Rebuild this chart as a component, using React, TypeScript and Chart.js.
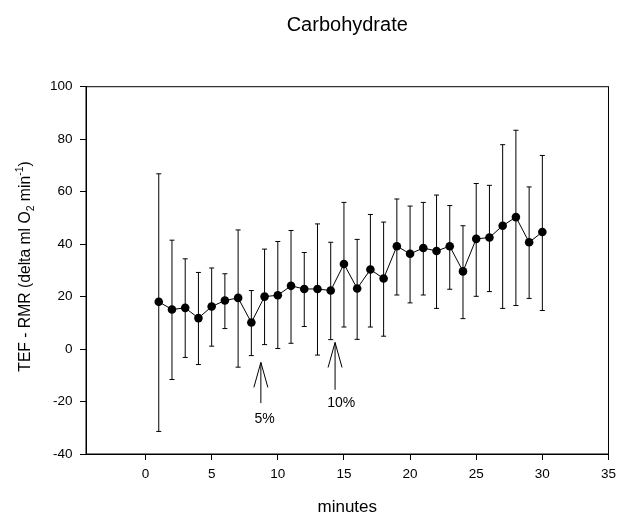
import React, { useEffect, useRef } from "react";
import { Chart, registerables } from "chart.js";

Chart.register(...registerables);

const MINUTES = [1, 2, 3, 4, 5, 6, 7, 8, 9, 10, 11, 12, 13, 14, 15, 16, 17, 18, 19, 20, 21, 22, 23, 24, 25, 26, 27, 28, 29, 30];
const MEAN = [18.0, 15.1, 15.7, 11.8, 16.2, 18.5, 19.5, 10.1, 20.0, 20.5, 24.1, 22.9, 22.9, 22.3, 32.4, 23.1, 30.3, 26.9, 39.2, 36.3, 38.5, 37.4, 39.2, 29.6, 42.0, 42.5, 47.0, 50.3, 40.7, 44.6];
const UPPER = [66.8, 41.5, 34.4, 29.2, 30.9, 28.7, 45.4, 22.3, 38.1, 41.0, 45.2, 36.8, 47.7, 40.7, 55.9, 41.8, 51.3, 48.4, 57.2, 54.5, 55.9, 58.7, 54.7, 47.0, 63.1, 62.4, 77.9, 83.4, 61.8, 73.8];
const LOWER = [-31.4, -11.6, -3.2, -5.9, 1.1, 7.8, -6.9, -2.5, 1.7, 0.2, 2.2, 8.6, -2.3, 3.6, 8.4, 3.7, 8.4, 4.9, 20.6, 17.6, 20.6, 15.5, 22.8, 11.6, 20.1, 21.9, 15.5, 16.6, 19.3, 14.7];

const X_TICKS = [0, 5, 10, 15, 20, 25, 30, 35];
const Y_TICKS = [-40, -20, 0, 20, 40, 60, 80, 100];

const ARROW_X = [8.72, 14.33];
const ARROW_TIP = [-5.1, 2.5];
const ARROW_BASE = [-20.6, -15.5];
const ARROW_LABELS = ["5%", "10%"];
const ARROW_LABEL_X = [9.0, 14.8];
const ARROW_LABEL_Y = [-26.9, -20.6];

const TITLE = "Carbohydrate";
const X_TITLE = "minutes";
const Y_TITLE_PARTS = [
  { text: "TEF - RMR (delta ml O", kind: "n" },
  { text: "2", kind: "sub" },
  { text: " min", kind: "n" },
  { text: "-1", kind: "sup" },
  { text: ")", kind: "n" },
];

const FONT = "'Liberation Sans', Arial, Helvetica, sans-serif";
const W = 622;
const H = 515;

const overlay = {
  id: "overlay",
  beforeDatasetsDraw(chart: any) {
    const { ctx, scales } = chart;
    const x = scales.x;
    const y = scales.y;
    ctx.save();
    ctx.strokeStyle = "#000";
    ctx.lineWidth = 1;
    const cap = 2.5;
    MINUTES.forEach((m, i) => {
      const px = x.getPixelForValue(m);
      const top = y.getPixelForValue(UPPER[i]);
      const bot = y.getPixelForValue(LOWER[i]);
      ctx.beginPath();
      ctx.moveTo(px, top);
      ctx.lineTo(px, bot);
      ctx.moveTo(px - cap, top);
      ctx.lineTo(px + cap, top);
      ctx.moveTo(px - cap, bot);
      ctx.lineTo(px + cap, bot);
      ctx.stroke();
    });
    ctx.restore();
  },
  afterDraw(chart: any) {
    const { ctx, scales, chartArea } = chart;
    const x = scales.x;
    const y = scales.y;
    ctx.save();
    ctx.strokeStyle = "#000";
    ctx.lineWidth = 1;
    ctx.strokeRect(chartArea.left, chartArea.top, chartArea.right - chartArea.left, chartArea.bottom - chartArea.top);

    ARROW_X.forEach((ax, i) => {
      const px = x.getPixelForValue(ax);
      const tip = y.getPixelForValue(ARROW_TIP[i]);
      const base = y.getPixelForValue(ARROW_BASE[i]);
      ctx.beginPath();
      ctx.moveTo(px, base);
      ctx.lineTo(px, tip);
      ctx.moveTo(px - 7, tip + 25);
      ctx.lineTo(px, tip);
      ctx.lineTo(px + 7, tip + 25);
      ctx.stroke();
      ctx.fillStyle = "#000";
      ctx.font = `14px ${FONT}`;
      ctx.textAlign = "center";
      ctx.textBaseline = "middle";
      ctx.fillText(ARROW_LABELS[i], x.getPixelForValue(ARROW_LABEL_X[i]), y.getPixelForValue(ARROW_LABEL_Y[i]));
    });

    const cx = (chartArea.left + chartArea.right) / 2;
    ctx.fillStyle = "#000";
    ctx.textAlign = "center";
    ctx.textBaseline = "alphabetic";
    ctx.font = `20px ${FONT}`;
    ctx.fillText(TITLE, cx, 30.7);

    ctx.font = `17px ${FONT}`;
    ctx.fillText(X_TITLE, cx, 512);

    const cy = 266.5;
    const big = 15.7;
    const small = 10.5;
    const fontFor = (k: string) => `${k === "n" ? big : small}px ${FONT}`;
    let total = 0;
    Y_TITLE_PARTS.forEach((p) => {
      ctx.font = fontFor(p.kind);
      total += ctx.measureText(p.text).width;
    });
    ctx.translate(29.5, cy);
    ctx.rotate(-Math.PI / 2);
    ctx.textAlign = "left";
    let pos = -total / 2;
    Y_TITLE_PARTS.forEach((p) => {
      ctx.font = fontFor(p.kind);
      const dy = p.kind === "sub" ? 4 : p.kind === "sup" ? -7 : 0;
      ctx.fillText(p.text, pos, dy);
      pos += ctx.measureText(p.text).width;
    });
    ctx.restore();
  },
};

export default function App() {
  const ref = useRef<HTMLCanvasElement | null>(null);
  useEffect(() => {
    if (!ref.current) return;
    const chart = new Chart(ref.current, {
      type: "line",
      data: {
        datasets: [
          {
            data: MINUTES.map((m, i) => ({ x: m, y: MEAN[i] })),
            borderColor: "#000",
            borderWidth: 1,
            pointRadius: 4.3,
            pointBackgroundColor: "#000",
            pointBorderColor: "#000",
            pointBorderWidth: 0,
            tension: 0,
            fill: false,
          },
        ],
      },
      options: {
        animation: false,
        responsive: false,
        layout: { padding: { top: 86.7, right: 10, left: 0, bottom: 0 } },
        plugins: {
          legend: { display: false },
          tooltip: { enabled: false },
          title: { display: false },
        },
        scales: {
          x: {
            type: "linear",
            min: -4.5,
            max: 35,
            afterBuildTicks: (s: any) => {
              s.ticks = X_TICKS.map((v) => ({ value: v }));
            },
            afterFit: (s: any) => {
              s.height = H - 454;
            },
            grid: { display: true, drawOnChartArea: false, drawTicks: true, tickLength: 6, color: "#000", lineWidth: 1 },
            border: { display: true, color: "#000", width: 1 },
            ticks: { font: { family: FONT, size: 13.5 }, color: "#000", padding: 6, maxRotation: 0, autoSkip: false },
          },
          y: {
            type: "linear",
            min: -40,
            max: 100,
            afterBuildTicks: (s: any) => {
              s.ticks = Y_TICKS.map((v) => ({ value: v }));
            },
            afterFit: (s: any) => {
              s.width = 86;
            },
            grid: { display: true, drawOnChartArea: false, drawTicks: true, tickLength: 6, color: "#000", lineWidth: 1 },
            border: { display: true, color: "#000", width: 1 },
            ticks: { font: { family: FONT, size: 13.5 }, color: "#000", padding: 7.5, autoSkip: false },
          },
        },
      },
      plugins: [overlay],
    });
    return () => chart.destroy();
  }, []);
  return (
    <div style={{ position: "fixed", left: 0, top: 0, width: W, height: H, background: "#fff" }}>
      <canvas ref={ref} width={W} height={H} style={{ display: "block", width: W, height: H }} />
    </div>
  );
}
